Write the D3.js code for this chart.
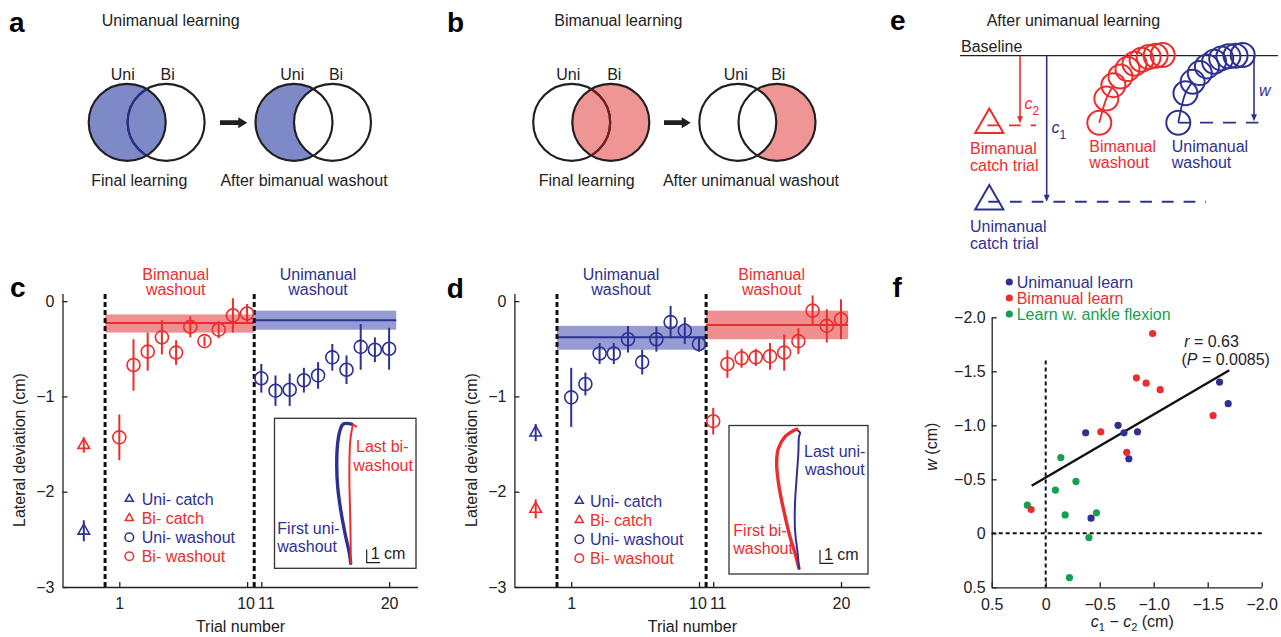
<!DOCTYPE html>
<html>
<head>
<meta charset="utf-8">
<script src="https://cdn.jsdelivr.net/npm/d3@7"></script>
<style>
  body { margin: 0; background: #fff; }
  svg text { font-family: "Liberation Sans", Arial, Helvetica, sans-serif; font-size: 16px; }
</style>
</head>
<body>
<div id="fig"></div>
<script>
// colours
const blue = "#2e3192", red = "#ec2d2d", green = "#13a14f";
const blueBand = "#949cd3", redBand = "#ef8f8f";
const vennBlue = "#7e8ac8", vennRed = "#f09596";

// ---- panel c data (unimanual learning) ----
const trialsA = [1, 2, 3, 4, 5, 6, 7, 8, 9, 10];
const trialsB = [11, 12, 13, 14, 15, 16, 17, 18, 19, 20];
const cBiMean = [-1.43, -0.67, -0.53, -0.38, -0.54, -0.27, -0.42, -0.30, -0.15, -0.13];
const cBiErr  = [0.24, 0.27, 0.20, 0.18, 0.13, 0.11, 0.05, 0.09, 0.18, 0.10];
const cUniMean = [-0.81, -0.94, -0.93, -0.83, -0.78, -0.59, -0.72, -0.48, -0.51, -0.50];
const cUniErr  = [0.15, 0.16, 0.17, 0.13, 0.14, 0.14, 0.15, 0.24, 0.13, 0.22];
const cCatch = [{ kind: "uni", mean: -2.41, err: 0.11 }, { kind: "bi", mean: -1.51, err: 0.08 }];
const cBands = [
  { kind: "bi", from: 0, to: 10.5, mean: -0.23, lo: -0.33, hi: -0.14 },
  { kind: "uni", from: 10.5, to: 20.5, mean: -0.20, lo: -0.30, hi: -0.10 }
];
// inset trajectories, cm (lateral, forward)
const cFirstUni = [[0, 0], [-0.1, 0.75], [-0.43, 2.26], [-0.75, 4.0], [-0.98, 5.76], [-1.05, 7.52], [-0.98, 9.02], [-0.8, 10.0], [-0.56, 10.47], [0.08, 10.47]];
const cLastBi = [[0, 0], [0, 1.5], [-0.05, 4.0], [-0.1, 6.5], [-0.05, 9.0], [0.08, 10.0], [0.2, 10.4], [0.4, 10.28]];

// ---- panel d data (bimanual learning) ----
const dUniMean = [-1.01, -0.87, -0.55, -0.55, -0.40, -0.64, -0.40, -0.22, -0.31, -0.45];
const dUniErr  = [0.31, 0.12, 0.11, 0.11, 0.14, 0.13, 0.13, 0.17, 0.14, 0.08];
const dBiMean = [-1.26, -0.66, -0.60, -0.59, -0.58, -0.54, -0.42, -0.10, -0.26, -0.19];
const dBiErr  = [0.14, 0.145, 0.10, 0.09, 0.14, 0.19, 0.135, 0.16, 0.175, 0.21];
const dCatch = [{ kind: "uni", mean: -1.38, err: 0.09 }, { kind: "bi", mean: -2.18, err: 0.10 }];
const dBands = [
  { kind: "uni", from: 0, to: 10.5, mean: -0.38, lo: -0.51, hi: -0.26 },
  { kind: "bi", from: 10.5, to: 20.5, mean: -0.25, lo: -0.40, hi: -0.10 }
];
const dFirstBi = [[0, 0], [-0.3, 1.13], [-0.68, 2.38], [-1.1, 4.14], [-1.5, 6.14], [-1.68, 7.89], [-1.55, 9.0], [-1.05, 9.9], [-0.43, 10.35], [-0.17, 10.45]];
const dLastUni = [[0, 0], [-0.1, 1.13], [-0.3, 2.88], [-0.3, 4.89], [-0.17, 6.9], [-0.05, 8.66], [0, 9.9], [0.08, 10.2], [-0.05, 10.33]];

// ---- panel e schematic (deviation in arbitrary units, 1 = bimanual catch) ----
const eBiWash  = [1.0, 0.64, 0.44, 0.31, 0.20, 0.12, 0.06, 0.02, 0.0, -0.01];
const eUniWash = [1.0, 0.56, 0.39, 0.26, 0.16, 0.09, 0.04, 0.01, 0.0, -0.01];
const eC1 = 2.18, eC2 = 1.04, eW = 1.0;

// ---- panel f data: [c1 - c2, w] ----
const fUni = [[-0.37, -0.93], [-0.67, -1.00], [-0.725, -0.93], [-0.85, -0.94], [-0.77, -0.69], [-0.42, -0.14], [-1.61, -1.40], [-1.69, -1.20]];
const fBi = [[-0.99, -1.85], [-0.84, -1.44], [-0.93, -1.39], [-1.06, -1.33], [-1.55, -1.09], [-0.51, -0.94], [-0.75, -0.75], [0.135, -0.22]];
const fAnkle = [[-0.14, -0.70], [-0.28, -0.48], [-0.09, -0.40], [0.17, -0.26], [-0.18, -0.17], [-0.47, -0.19], [-0.40, 0.04], [-0.22, 0.41]];
const fFit = [[0.13, -0.44], [-1.70, -1.51]];
const fTicks = [-2.0, -1.5, -1.0, -0.5, 0, 0.5];

const svg = d3.select("#fig").append("svg")
  .attr("width", 1281)
  .attr("height", 637);

const minus = v => (v < 0 ? "\u2212" : "") + Math.abs(v);

function panelLabel(t, x, y) {
  svg.append("text").attr("x", x).attr("y", y)
    .style("font-size", "28px").style("font-weight", "bold").text(t);
}

function label(t, x, y, color, anchor) {
  return svg.append("text").attr("x", x).attr("y", y).attr("dy", "0.35em")
    .attr("text-anchor", anchor || "start").attr("fill", color || "#222").text(t);
}

// ================= panels a & b: Venn diagrams =================
const vennR = 38.5;
let clipId = 0;
function venn(cxA, cxB, cy, filled, keepOverlap, fillColor, edgeColor) {
  const g = svg.append("g");
  const fc = filled === "A" ? cxA : cxB;
  const oc = filled === "A" ? cxB : cxA;
  g.append("circle").attr("cx", fc).attr("cy", cy).attr("r", vennR).attr("fill", fillColor);
  if (!keepOverlap) {
    g.append("circle").attr("cx", oc).attr("cy", cy).attr("r", vennR).attr("fill", "#fff");
  }
  [cxA, cxB].forEach(cx => {
    g.append("circle").attr("cx", cx).attr("cy", cy).attr("r", vennR)
      .attr("fill", "none").attr("stroke", "#231f20").attr("stroke-width", 2.2);
  });
  if (keepOverlap) {
    const id = "clip" + (clipId++);
    svg.append("clipPath").attr("id", id)
      .append("circle").attr("cx", fc).attr("cy", cy).attr("r", vennR - 1);
    g.append("circle").attr("cx", oc).attr("cy", cy).attr("r", vennR)
      .attr("fill", "none").attr("stroke", edgeColor).attr("stroke-width", 2.2)
      .attr("clip-path", `url(#${id})`);
  }
}
function arrowRight(x1, x2, y) {
  svg.append("path")
    .attr("d", `M${x1},${y - 2.4}H${x2 - 9}V${y - 5.5}L${x2},${y}L${x2 - 9},${y + 5.5}V${y + 2.4}H${x1}Z`)
    .attr("fill", "#231f20");
}

panelLabel("a", 9, 32);
label("Unimanual learning", 101.7, 20);
venn(127.2, 166.1, 122.3, "A", true, vennBlue, "#2b2f8a");
venn(294.0, 332.5, 122.3, "A", false, vennBlue);
arrowRight(220, 247.3, 122.7);
label("Uni", 122.7, 74, null, "middle");
label("Bi", 167.7, 74, null, "middle");
label("Uni", 292.3, 74, null, "middle");
label("Bi", 336, 74, null, "middle");
label("Final learning", 139.3, 180, null, "middle");
label("After bimanual washout", 304, 180, null, "middle");

panelLabel("b", 447, 32);
label("Bimanual learning", 554.3, 20);
venn(571.7, 610.8, 122.3, "B", true, vennRed, "#7a1c1c");
venn(737.8, 777.0, 122.3, "B", false, vennRed);
arrowRight(664, 690.7, 122.7);
label("Uni", 568.3, 74, null, "middle");
label("Bi", 614.3, 74, null, "middle");
label("Uni", 735.7, 74, null, "middle");
label("Bi", 778.3, 74, null, "middle");
label("Final learning", 586.7, 180, null, "middle");
label("After unimanual washout", 751, 180, null, "middle");

// ================= panels c & d: trial series =================
function trialPanel(p) {
  const x = d3.scaleLinear().domain([-3, 22]).range([p.left, p.left + 355]);
  const y = d3.scaleLinear().domain([-3, 0.08]).range([587, 293.5]);
  const col = k => (k === "uni" ? blue : red);
  const g = svg.append("g");

  // bands
  p.bands.forEach(b => {
    g.append("rect")
      .attr("x", x(b.from)).attr("width", x(b.to) - x(b.from))
      .attr("y", y(b.hi)).attr("height", y(b.lo) - y(b.hi))
      .attr("fill", b.kind === "uni" ? blueBand : redBand);
    g.append("line")
      .attr("x1", x(b.from)).attr("x2", x(b.to))
      .attr("y1", y(b.mean)).attr("y2", y(b.mean))
      .attr("stroke", col(b.kind)).attr("stroke-width", 2);
  });

  // dashed separators
  [0, 10.5].forEach(t => {
    g.append("line")
      .attr("x1", x(t)).attr("x2", x(t))
      .attr("y1", y(-3)).attr("y2", y(0.08))
      .attr("stroke", "#111").attr("stroke-width", 3).attr("stroke-dasharray", "5,3");
  });

  // axes
  const yAxis = d3.axisLeft(y).tickValues([-3, -2, -1, 0]).tickFormat(minus)
    .tickSize(-5).tickSizeOuter(0).tickPadding(8);
  const xAxis = d3.axisBottom(x).tickValues([1, 10, 11, 20])
    .tickSize(-5).tickSizeOuter(0).tickPadding(11);
  const ya = g.append("g").attr("transform", `translate(${x(-3)},0)`).call(yAxis);
  const xa = g.append("g").attr("transform", `translate(0,${y(-3)})`).call(xAxis);
  [ya, xa].forEach(a => {
    a.attr("font-size", null).attr("font-family", null);
    a.selectAll("path,line").attr("stroke", "#222").attr("stroke-width", 1.3);
    a.selectAll("text").attr("fill", "#222").style("font-size", "16px");
  });
  // "10" and "11" sit tight together, as in print
  xa.selectAll(".tick text").attr("dx", d => (d === 10 ? -1.5 : d === 11 ? 4.5 : 0));

  // series
  const series = [
    { kind: p.firstKind, trials: trialsA, mean: p.firstMean, err: p.firstErr },
    { kind: p.firstKind === "bi" ? "uni" : "bi", trials: trialsB, mean: p.secondMean, err: p.secondErr }
  ];
  series.forEach(s => {
    s.trials.forEach((t, i) => {
      g.append("line")
        .attr("x1", x(t)).attr("x2", x(t))
        .attr("y1", y(s.mean[i] - s.err[i])).attr("y2", y(s.mean[i] + s.err[i]))
        .attr("stroke", col(s.kind)).attr("stroke-width", 2);
    });
    g.selectAll(null).data(s.trials).enter().append("circle")
      .attr("cx", d => x(d)).attr("cy", (d, i) => y(s.mean[i])).attr("r", 6.5)
      .attr("fill", "none").attr("stroke", col(s.kind)).attr("stroke-width", 1.6);
  });

  // catch trials
  p.catchTrials.forEach(c => {
    g.append("line")
      .attr("x1", x(-1.5)).attr("x2", x(-1.5))
      .attr("y1", y(c.mean - c.err)).attr("y2", y(c.mean + c.err))
      .attr("stroke", col(c.kind)).attr("stroke-width", 2);
    g.append("path")
      .attr("d", d3.symbol().type(d3.symbolTriangle).size(58)())
      .attr("transform", `translate(${x(-1.5)},${y(c.mean)})`)
      .attr("fill", "none").attr("stroke", col(c.kind)).attr("stroke-width", 1.6);
  });

  // legend
  const leg = [
    { t: "Uni- catch", k: "uni", tri: true }, { t: "Bi- catch", k: "bi", tri: true },
    { t: "Uni- washout", k: "uni", tri: false }, { t: "Bi- washout", k: "bi", tri: false }
  ];
  leg.forEach((l, i) => {
    const ly = p.legY + i * 19.1;
    if (l.tri) {
      g.append("path").attr("d", d3.symbol().type(d3.symbolTriangle).size(28)())
        .attr("transform", `translate(${p.legX},${ly})`)
        .attr("fill", "none").attr("stroke", col(l.k)).attr("stroke-width", 1.5);
    } else {
      g.append("circle").attr("cx", p.legX).attr("cy", ly).attr("r", 4.3)
        .attr("fill", "none").attr("stroke", col(l.k)).attr("stroke-width", 1.5);
    }
    label(l.t, p.legX + p.legGap, ly, col(l.k));
  });

  // labels
  label("Trial number", p.left + 178, 626, "#222", "middle");
  svg.append("text").attr("transform", `translate(${p.yLabX},450) rotate(-90)`)
    .attr("text-anchor", "middle").attr("dy", "0.35em").attr("fill", "#222")
    .text("Lateral deviation (cm)");
  p.titles.forEach(tt => {
    label(tt.lines[0], tt.x, 274, col(tt.kind), "middle");
    label(tt.lines[1], tt.x, 289.5, col(tt.kind), "middle");
  });

  // inset
  const ib = p.inset;
  g.append("rect").attr("x", ib.x).attr("y", ib.y).attr("width", ib.w).attr("height", ib.h)
    .attr("fill", "#fff").attr("stroke", "#333").attr("stroke-width", 1.3);
  const cm = 13.3;
  const line = d3.line().x(d => ib.ox + d[0] * cm).y(d => ib.oy - d[1] * cm).curve(d3.curveCatmullRom);
  ib.paths.forEach(pp => {
    g.append("path").attr("d", line(pp.pts)).attr("fill", "none")
      .attr("stroke", col(pp.kind)).attr("stroke-width", pp.w).attr("stroke-linecap", "round");
  });
  ib.texts.forEach(tx => label(tx.t, tx.x, tx.y, col(tx.kind)));
  g.append("path")
    .attr("d", `M${ib.sx},${ib.sy - cm}V${ib.sy}H${ib.sx + cm}`)
    .attr("fill", "none").attr("stroke", "#222").attr("stroke-width", 1.2);
  svg.append("text").attr("x", ib.sx + 4).attr("y", ib.sy - 3.5).attr("fill", "#222").text("1 cm");
}

panelLabel("c", 10, 296.7);
trialPanel({
  left: 62.5, yLabX: 19,
  firstKind: "bi", firstMean: cBiMean, firstErr: cBiErr,
  secondMean: cUniMean, secondErr: cUniErr,
  catchTrials: cCatch, bands: cBands,
  legX: 129.3, legY: 499, legGap: 12.4,
  titles: [{ kind: "bi", x: 175.7, lines: ["Bimanual", "washout"] },
           { kind: "uni", x: 318, lines: ["Unimanual", "washout"] }],
  inset: {
    x: 274.5, y: 418.3, w: 141.5, h: 150, ox: 350.7, oy: 563.3, sx: 366.7, sy: 562.7,
    paths: [{ kind: "uni", pts: cFirstUni, w: 3.4 }, { kind: "bi", pts: cLastBi, w: 2 }],
    texts: [{ t: "Last bi-", x: 356, y: 446.7, kind: "bi" }, { t: "washout", x: 353.3, y: 465, kind: "bi" },
            { t: "First uni-", x: 277.3, y: 528.3, kind: "uni" }, { t: "washout", x: 277.3, y: 546.7, kind: "uni" }]
  }
});

panelLabel("d", 446.7, 298.3);
trialPanel({
  left: 514.4, yLabX: 471.7,
  firstKind: "uni", firstMean: dUniMean, firstErr: dUniErr,
  secondMean: dBiMean, secondErr: dBiErr,
  catchTrials: dCatch, bands: dBands,
  legX: 579.3, legY: 501, legGap: 10.7,
  titles: [{ kind: "uni", x: 621, lines: ["Unimanual", "washout"] },
           { kind: "bi", x: 771.7, lines: ["Bimanual", "washout"] }],
  inset: {
    x: 729, y: 425.5, w: 139, h: 148.5, ox: 799, oy: 568.3, sx: 820, sy: 563.3,
    paths: [{ kind: "bi", pts: dFirstBi, w: 3.4 }, { kind: "uni", pts: dLastUni, w: 2 }],
    texts: [{ t: "Last uni-", x: 804, y: 451.7, kind: "uni" }, { t: "washout", x: 805, y: 469.3, kind: "uni" },
            { t: "First bi-", x: 733.3, y: 530, kind: "bi" }, { t: "washout", x: 733.3, y: 548.3, kind: "bi" }]
  }
});

// ================= panel e: schematic =================
panelLabel("e", 890, 30);
label("After unimanual learning", 986.7, 20);
label("Baseline", 961, 46.5);
const eY = d3.scaleLinear().domain([0, 1]).range([55.7, 122.7]);
svg.append("line").attr("x1", 960).attr("x2", 1278).attr("y1", eY(0)).attr("y2", eY(0))
  .attr("stroke", "#222").attr("stroke-width", 1.3);

function downArrow(x, v, color) {
  svg.append("line").attr("x1", x).attr("x2", x).attr("y1", eY(0)).attr("y2", eY(v) - 5)
    .attr("stroke", color).attr("stroke-width", 1.6);
  svg.append("path").attr("d", `M${x - 3},${eY(v) - 7}L${x + 3},${eY(v) - 7}L${x},${eY(v)}Z`).attr("fill", color);
}
function dashH(x1, x2, v, color) {
  svg.append("line").attr("x1", x1).attr("x2", x2).attr("y1", eY(v)).attr("y2", eY(v))
    .attr("stroke", color).attr("stroke-width", 1.8).attr("stroke-dasharray", "11.7,10");
}
function subLabel(base, sub, x, y, color) {
  const t = svg.append("text").attr("x", x).attr("y", y).attr("fill", color);
  t.append("tspan").style("font-style", "italic").text(base);
  if (sub) t.append("tspan").attr("dy", 6).style("font-size", "12px").text(sub);
}

// catch triangles and dashed levels
dashH(987.3, 1036, eC2, red);
dashH(988.3, 1206, eC1, blue);
[{ v: eC2, c: red }, { v: eC1, c: blue }].forEach(tr => {
  svg.append("path").attr("d", d3.symbol().type(d3.symbolTriangle).size(345)())
    .attr("transform", `translate(989.3,${eY(tr.v) - 0.5})`)
    .attr("fill", "none").attr("stroke", tr.c).attr("stroke-width", 2);
});
downArrow(1020, eC2 - 0.03, red);
downArrow(1046.7, eC1, blue);
subLabel("c", "2", 1024.5, 109, red);
subLabel("c", "1", 1051.5, 133, blue);
label("Bimanual", 970, 148.3, red);
label("catch trial", 970, 165, red);
label("Unimanual", 970, 226.7, blue);
label("catch trial", 970, 243.3, blue);

// washout circles
[{ vals: eBiWash, x0: 1099.3, x1: 1162.7, c: red }, { vals: eUniWash, x0: 1178.3, x1: 1242.7, c: blue }].forEach(s => {
  const ex = d3.scaleLinear().domain([0, s.vals.length - 1]).range([s.x0, s.x1]);
  svg.append("path")
    .attr("d", d3.line().x((d, i) => ex(i)).y(d => eY(d)).curve(d3.curveCatmullRom)(s.vals.slice(0, 3)))
    .attr("fill", "none").attr("stroke", s.c).attr("stroke-width", 1.8);
  svg.selectAll(null).data(s.vals).enter().append("circle")
    .attr("cx", (d, i) => ex(i)).attr("cy", d => eY(d)).attr("r", 12)
    .attr("fill", "none").attr("stroke", s.c).attr("stroke-width", 2);
});
svg.append("line").attr("x1", 1178.3).attr("x2", 1190.3).attr("y1", eY(eW)).attr("y2", eY(eW))
  .attr("stroke", blue).attr("stroke-width", 1.8);
svg.append("line").attr("x1", 1200).attr("x2", 1258.3).attr("y1", eY(eW)).attr("y2", eY(eW))
  .attr("stroke", blue).attr("stroke-width", 1.8).attr("stroke-dasharray", "13,10");
downArrow(1254, eW - 0.02, blue);
subLabel("w", null, 1259, 96, blue);
label("Bimanual", 1089.3, 146.7, red);
label("washout", 1089.3, 162.7, red);
label("Unimanual", 1171.7, 146.7, blue);
label("washout", 1171.7, 162.7, blue);

// ================= panel f: scatter =================
panelLabel("f", 892.5, 296.7);
const fx = d3.scaleLinear().domain([0.5, -2.0]).range([991.7, 1261.7]);
const fy = d3.scaleLinear().domain([-2.0, 0.5]).range([317.3, 587.3]);
const fFmt = v => v === 0 ? "0" : (v < 0 ? "\u2212" : "") + d3.format(".1f")(Math.abs(v));
const fg = svg.append("g");
[fg.append("g").attr("transform", `translate(${fx(0.5)},0)`)
   .call(d3.axisLeft(fy).tickValues(fTicks).tickFormat(fFmt).tickSize(-5).tickSizeOuter(0).tickPadding(6)),
 fg.append("g").attr("transform", `translate(0,${fy(0.5)})`)
   .call(d3.axisBottom(fx).tickValues(fTicks).tickFormat(fFmt).tickSize(-5).tickSizeOuter(0).tickPadding(11))
].forEach(a => {
  a.attr("font-size", null).attr("font-family", null);
  a.selectAll("path,line").attr("stroke", "#222").attr("stroke-width", 1.3);
  a.selectAll("text").attr("fill", "#222").style("font-size", "16px");
});

fg.append("line").attr("x1", fx(0)).attr("x2", fx(0)).attr("y1", fy(-1.6)).attr("y2", fy(0.5))
  .attr("stroke", "#111").attr("stroke-width", 2).attr("stroke-dasharray", "4,3");
fg.append("line").attr("x1", fx(0.5)).attr("x2", fx(-2.0)).attr("y1", fy(0)).attr("y2", fy(0))
  .attr("stroke", "#111").attr("stroke-width", 2).attr("stroke-dasharray", "4,3");
fg.append("line")
  .attr("x1", fx(fFit[0][0])).attr("y1", fy(fFit[0][1]))
  .attr("x2", fx(fFit[1][0])).attr("y2", fy(fFit[1][1]))
  .attr("stroke", "#111").attr("stroke-width", 2.4);

[{ d: fAnkle, c: green }, { d: fUni, c: blue }, { d: fBi, c: red }].forEach(s => {
  fg.selectAll(null).data(s.d).enter().append("circle")
    .attr("cx", d => fx(d[0])).attr("cy", d => fy(d[1])).attr("r", 3.6).attr("fill", s.c);
});

[{ t: "Unimanual learn", c: blue }, { t: "Bimanual learn", c: red }, { t: "Learn w. ankle flexion", c: green }]
  .forEach((l, i) => {
    const ly = 282 + i * 16;
    fg.append("circle").attr("cx", 1009.3).attr("cy", ly).attr("r", 3.6).attr("fill", l.c);
    label(l.t, 1016.7, ly, l.c);
  });

const rt = svg.append("text").attr("x", 1211.5).attr("y", 341.7).attr("dy", "0.35em")
  .attr("text-anchor", "middle").attr("fill", "#222");
rt.append("tspan").style("font-style", "italic").text("r");
rt.append("tspan").text(" = 0.63");
const pt = svg.append("text").attr("x", 1225.7).attr("y", 359).attr("dy", "0.35em")
  .attr("text-anchor", "middle").attr("fill", "#222");
pt.append("tspan").text("(");
pt.append("tspan").style("font-style", "italic").text("P");
pt.append("tspan").text(" = 0.0085)");

svg.append("text").attr("transform", "translate(931.7,446.7) rotate(-90)")
  .attr("text-anchor", "middle").attr("dy", "0.35em").attr("fill", "#222")
  .call(t => {
    t.append("tspan").style("font-style", "italic").text("w");
    t.append("tspan").text(" (cm)");
  });
const xl = svg.append("text").attr("x", 1132.3).attr("y", 627).attr("text-anchor", "middle").attr("fill", "#222");
xl.append("tspan").style("font-style", "italic").text("c");
xl.append("tspan").attr("dy", 4).style("font-size", "11px").text("1");
xl.append("tspan").attr("dy", -4).text(" \u2212 ");
xl.append("tspan").style("font-style", "italic").text("c");
xl.append("tspan").attr("dy", 4).style("font-size", "11px").text("2");
xl.append("tspan").attr("dy", -4).text(" (cm)");
</script>
</body>
</html>
